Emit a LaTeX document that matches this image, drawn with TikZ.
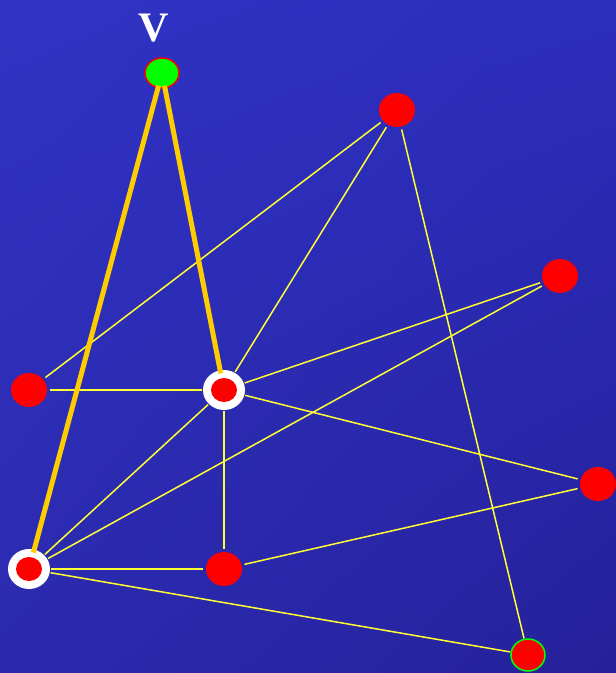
\documentclass[tikz,border=0pt]{standalone}
\usepackage{fontspec}
\setmainfont{Liberation Serif}
\usetikzlibrary{shapes.geometric,shadings}
\definecolor{bgUL}{HTML}{3033C4}
\definecolor{bgUR}{HTML}{2B2DBC}
\definecolor{bgLL}{HTML}{2B2AAE}
\definecolor{bgLR}{HTML}{25219A}
\definecolor{edgeY}{HTML}{FFFF33}
\definecolor{thickY}{HTML}{FFCC00}
\tikzset{
  rednode/.style={ellipse, fill=red, minimum width=36pt, minimum height=34pt, inner sep=0pt, outer sep=3pt},
  ringnode/.style={ellipse, fill=white, minimum width=42pt, minimum height=40pt, inner sep=0pt, outer sep=1pt},
  ringcore/.style={ellipse, fill=red, minimum width=26pt, minimum height=24pt, inner sep=0pt},
  vnode/.style={ellipse, fill=green, draw=red, line width=1.5pt, minimum width=34pt, minimum height=30pt, inner sep=0pt, outer sep=0pt},
  hnode/.style={ellipse, fill=red, draw=green, line width=1.5pt, minimum width=34pt, minimum height=32pt, inner sep=0pt, outer sep=1pt},
  thin/.style={edgeY, line width=1.5pt},
  thickedge/.style={thickY, line width=5pt},
}
\begin{document}
\begin{tikzpicture}[x=1pt, y=-1pt]
\useasboundingbox (0,0) rectangle (616,673);
\shade[upper left=bgUL, upper right=bgUR, lower left=bgLL, lower right=bgLR] (0,0) rectangle (616,673);
% nodes
\node[vnode] (V) at (162,73) {};
\node[text=white, font=\bfseries\fontsize{42}{42}\selectfont] (Vl) at (154,28) {V};
\node[rednode] (A) at (397,110) {};
\node[rednode] (B) at (560,276) {};
\node[rednode] (C) at (29,390) {};
\node[ringnode] (D) at (224,390) {};
\node[ringcore] (Dc) at (224,390) {};
\node[rednode] (E) at (598,484) {};
\node[ringnode] (F) at (29,569) {};
\node[ringcore] (Fc) at (29,569) {};
\node[rednode] (G) at (224,569) {};
\node[hnode] (H) at (528,655) {};
% thin edges
\draw[thin] (A) -- (C);
\draw[thin] (A) -- (D);
\draw[thin] (A) -- (H);
\draw[thin] (B) -- (D);
\draw[thin] (B) -- (F);
\draw[thin] (C) -- (D);
\draw[thin] (D) -- (E);
\draw[thin] (D) -- (F);
\draw[thin] (D) -- (G);
\draw[thin] (E) -- (G);
\draw[thin] (F) -- (G);
\draw[thin] (F) -- (H);
% thick edges
\draw[thickedge, shorten <=-2pt, shorten >=-4pt] (V) -- (D);
\draw[thickedge, shorten <=-2pt, shorten >=-4pt] (V) -- (F);
\end{tikzpicture}
\end{document}
